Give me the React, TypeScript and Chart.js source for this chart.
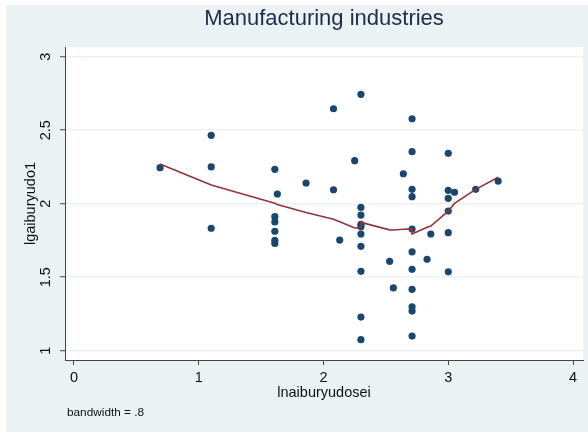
import React, { useEffect, useRef } from "react";
import { Chart, registerables } from "chart.js";

Chart.register(...registerables);

// Scatter observations (x = lnaiburyudosei, y = lgaiburyudo1)
const pointX = [
  0.69,
  1.1, 1.1, 1.1,
  1.61, 1.61, 1.61, 1.61, 1.61, 1.61,
  1.63, 1.86, 2.08, 2.08, 2.13, 2.25,
  2.3, 2.3, 2.3, 2.3, 2.3, 2.3, 2.3, 2.3, 2.3, 2.3,
  2.53, 2.56, 2.64,
  2.71, 2.71, 2.71, 2.71, 2.71, 2.71, 2.71, 2.71, 2.71, 2.71, 2.71,
  2.83, 2.86,
  3.0, 3.0, 3.0, 3.0, 3.0, 3.0,
  3.05, 3.22, 3.4,
];
const pointY = [
  2.245,
  2.465, 2.25, 1.833,
  2.234, 1.912, 1.876, 1.812, 1.751, 1.73,
  2.066, 2.141, 2.646, 2.095, 1.753, 2.293,
  2.744, 1.975, 1.923, 1.86, 1.843, 1.794, 1.71, 1.54, 1.229, 1.075,
  1.608, 1.427, 2.204,
  2.578, 2.354, 2.098, 2.048, 1.828, 1.673, 1.554, 1.418, 1.299, 1.27, 1.1,
  1.622, 1.794,
  2.343, 2.091, 2.037, 1.95, 1.803, 1.537,
  2.078, 2.098, 2.154,
];

// Lowess smooth (bandwidth = .8)
const lowessX = [0.69, 1.1, 1.61, 1.63, 1.86, 2.08, 2.13, 2.25, 2.3, 2.3, 2.53, 2.56, 2.64, 2.71, 2.71, 2.83, 2.86, 3.0, 3.05, 3.22, 3.4];
const lowessY = [2.27, 2.127, 2.003, 1.995, 1.94, 1.895, 1.878, 1.835, 1.835, 1.873, 1.822, 1.821, 1.826, 1.829, 1.794, 1.84, 1.848, 1.95, 2.002, 2.098, 2.18];

const xTicks = [0, 1, 2, 3, 4];
const yTicks = [1, 1.5, 2, 2.5, 3];

const titleText = "Manufacturing industries";
const xTitle = "lnaiburyudosei";
const yTitle = "lgaiburyudo1";
const noteText = "bandwidth = .8";

const FONT = "'Liberation Sans', Arial, Helvetica, sans-serif";

export default function App() {
  const ref = useRef<HTMLCanvasElement | null>(null);

  useEffect(() => {
    if (!ref.current) return;
    const bgPlugin = {
      id: "stataBg",
      beforeDraw(chart: any) {
        const { ctx, chartArea } = chart;
        ctx.save();
        ctx.fillStyle = "#eaf2f3";
        ctx.fillRect(6, 5, 582, 427);
        ctx.fillStyle = "#ffffff";
        ctx.fillRect(chartArea.left, chartArea.top, chartArea.right - chartArea.left, chartArea.bottom - chartArea.top);
        ctx.restore();
      },
      afterDraw(chart: any) {
        const { ctx, chartArea } = chart;
        ctx.save();
        ctx.fillStyle = "#1f2a4d";
        ctx.font = `22px ${FONT}`;
        ctx.textAlign = "center";
        ctx.textBaseline = "alphabetic";
        ctx.fillText(titleText, (chartArea.left + chartArea.right) / 2, 25);
        ctx.fillStyle = "#111";
        ctx.font = `11.8px ${FONT}`;
        ctx.textAlign = "left";
        ctx.fillText(noteText, 67, 416);
        ctx.restore();
      },
    };

    const chart = new Chart(ref.current, {
      type: "scatter",
      data: {
        datasets: [
          {
            label: "lowess",
            data: lowessX.map((x, i) => ({ x, y: lowessY[i] })),
            showLine: true,
            borderColor: "#90353b",
            borderWidth: 1.6,
            pointRadius: 0,
            tension: 0,
            order: 0,
          },
          {
            label: "points",
            data: pointX.map((x, i) => ({ x, y: pointY[i] })),
            backgroundColor: "#1a476f",
            borderWidth: 0,
            pointRadius: 3.6,
            order: 1,
          },
        ],
      },
      options: {
        responsive: false,
        animation: false,
        events: [],
        layout: { padding: { left: 0, top: 47, right: 5, bottom: 0 } },
        plugins: {
          legend: { display: false },
          tooltip: { enabled: false },
        },
        scales: {
          x: {
            type: "linear",
            min: -0.072,
            max: 4.08,
            afterBuildTicks: (s: any) => {
              s.ticks = xTicks.map((v) => ({ value: v }));
            },
            afterFit: (s: any) => {
              s.height = 72;
            },
            grid: {
              drawOnChartArea: false,
              drawTicks: true,
              tickLength: 5,
              tickColor: "#444",
              tickWidth: 1,
            },
            border: { display: true, color: "#444", width: 1 },
            ticks: {
              autoSkip: false,
              padding: 4,
              color: "#111",
              font: { family: FONT, size: 14.5 },
              callback: (v: any) => String(v),
            },
            title: {
              display: true,
              text: xTitle,
              color: "#111",
              font: { family: FONT, size: 14.5 },
              padding: { top: 0, bottom: 30.3 },
            },
          },
          y: {
            type: "linear",
            min: 0.937,
            max: 3.066,
            afterBuildTicks: (s: any) => {
              s.ticks = yTicks.map((v) => ({ value: v }));
            },
            afterFit: (s: any) => {
              s.width = 65;
            },
            grid: {
              drawOnChartArea: true,
              color: "#eaf2f3",
              lineWidth: 1.5,
              drawTicks: true,
              tickLength: 5,
              tickColor: "#444",
              tickWidth: 1,
            },
            border: { display: true, color: "#444", width: 1 },
            ticks: {
              autoSkip: false,
              minRotation: 90,
              maxRotation: 90,
              crossAlign: "center",
              padding: 4,
              color: "#111",
              font: { family: FONT, size: 14.5 },
              callback: (v: any) => String(v),
            },
            title: {
              display: true,
              text: yTitle,
              color: "#111",
              font: { family: FONT, size: 14.5 },
              padding: { top: 22.3, bottom: 0 },
            },
          },
        },
      },
      plugins: [bgPlugin],
    } as any);

    return () => chart.destroy();
  }, []);

  return (
    <div style={{ position: "absolute", left: 0, top: 0, width: 588, height: 432 }}>
      <canvas ref={ref} width={588} height={432} />
    </div>
  );
}
